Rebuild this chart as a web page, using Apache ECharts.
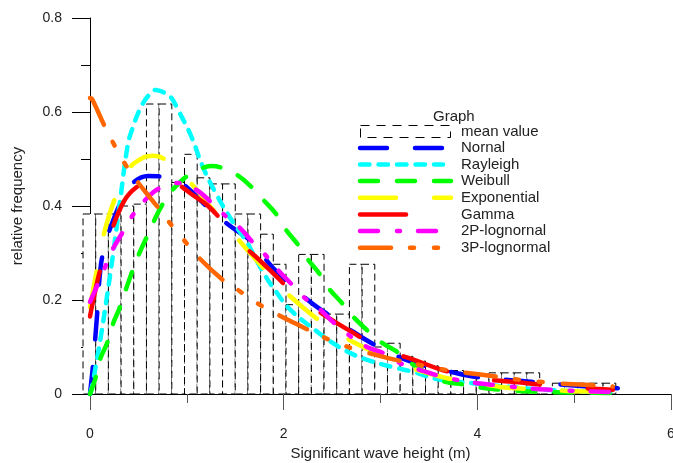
<!DOCTYPE html>
<html>
<head>
<meta charset="utf-8">
<script src="https://cdn.jsdelivr.net/npm/echarts@6/dist/echarts.min.js"></script>
<style>
    html, body { margin: 0; padding: 0; background: #fff; }
    #chart { width: 673px; height: 463px; }
</style>
</head>
<body>
<div id="chart"></div>
<script>
    // histogram of mean values: bins start at binLeft, each binWidth wide
    const binLeft = -0.072;
    const binWidth = 0.131;
    const meanFreq = [0.383, 0.383, 0.383, 0.40, 0.404, 0.617, 0.617, 0.45, 0.51, 0.46,
        0.447, 0.447, 0.383, 0.383, 0.34, 0.276, 0.19, 0.297, 0.297, 0.17,
        0.17, 0.276, 0.276, 0.10, 0.108, 0.08, 0.07, 0.06, 0.05, 0.05,
        0.04, 0.04, 0.045, 0.045, 0.045, 0.045, 0.01, 0.023, 0.023, 0.023,
        0.023, 0.023];

    const normalPts = [[0, 0], [0.03, 0.06], [0.07, 0.16], [0.11, 0.27], [0.16, 0.32], [0.24, 0.37],
        [0.35, 0.42], [0.46, 0.452], [0.6, 0.464], [0.75, 0.462], [0.9, 0.45], [1.0, 0.44], [1.2, 0.4],
        [1.43, 0.36], [1.68, 0.322], [1.84, 0.28], [1.93, 0.26], [2.25, 0.2], [2.5, 0.163], [2.72, 0.132],
        [2.98, 0.1], [3.3, 0.07], [3.77, 0.045], [4.0, 0.036], [4.55, 0.026], [5.0, 0.018], [5.45, 0.012]];
    const rayleighPts = [[0, 0], [0.02, 0.015], [0.06, 0.06], [0.11, 0.12], [0.17, 0.2], [0.24, 0.3],
        [0.31, 0.41], [0.39, 0.53], [0.44, 0.566], [0.52, 0.608], [0.6, 0.634], [0.68, 0.647], [0.76, 0.642],
        [0.84, 0.63], [0.91, 0.604], [1.04, 0.551], [1.17, 0.481], [1.31, 0.423], [1.45, 0.374], [1.62, 0.323],
        [1.68, 0.3], [1.8, 0.255], [1.93, 0.215], [2.07, 0.179], [2.35, 0.132], [2.51, 0.108], [2.69, 0.087],
        [2.87, 0.072], [3.13, 0.057], [3.34, 0.047], [3.58, 0.032], [4.0, 0.022], [4.5, 0.012], [5.0, 0.006],
        [5.4, 0.003]];
    const weibullPts = [[0, 0], [0.06, 0.036], [0.11, 0.077], [0.18, 0.11], [0.24, 0.151], [0.3, 0.18],
        [0.4, 0.24], [0.5, 0.295], [0.6, 0.34], [0.7, 0.385], [0.8, 0.42], [0.9, 0.445], [1.0, 0.463],
        [1.15, 0.48], [1.25, 0.485], [1.35, 0.482], [1.52, 0.466], [1.67, 0.44], [1.79, 0.413], [1.93, 0.381],
        [2.01, 0.353], [2.15, 0.317], [2.24, 0.289], [2.38, 0.253], [2.46, 0.226], [2.6, 0.194], [2.72, 0.164],
        [2.86, 0.136], [3.0, 0.111], [3.17, 0.09], [3.3, 0.068], [3.45, 0.048], [3.65, 0.027], [3.87, 0.02],
        [4.03, 0.014], [4.24, 0.009], [4.6, 0.005], [5.0, 0.003], [5.4, 0.002]];
    const exponentialPts = [[0, 0.185], [0.07, 0.264], [0.14, 0.338], [0.26, 0.417], [0.41, 0.481],
        [0.55, 0.503], [0.65, 0.507], [0.75, 0.502], [0.9, 0.475], [1.03, 0.451], [1.16, 0.42], [1.29, 0.387],
        [1.45, 0.35], [1.58, 0.317], [1.7, 0.289], [1.87, 0.25], [2.03, 0.215], [2.32, 0.164], [2.63, 0.121],
        [2.82, 0.1], [3.05, 0.077], [3.3, 0.057], [3.44, 0.047], [3.7, 0.033], [4.0, 0.023], [4.24, 0.015],
        [4.5, 0.011], [4.75, 0.009], [4.99, 0.006], [5.4, 0.004]];
    const gammaPts = [[0, 0.165], [0.03, 0.196], [0.1, 0.26], [0.22, 0.345], [0.35, 0.41], [0.48, 0.44],
        [0.65, 0.455], [0.8, 0.453], [0.9, 0.447], [1.05, 0.425], [1.22, 0.4], [1.42, 0.355], [1.58, 0.317],
        [1.75, 0.285], [1.93, 0.249], [2.1, 0.215], [2.3, 0.185], [2.5, 0.157], [2.72, 0.13], [2.9, 0.108],
        [3.12, 0.089], [3.41, 0.068], [3.64, 0.051], [4.0, 0.034], [4.51, 0.023], [4.9, 0.015], [5.4, 0.009]];
    const logn2Pts = [[0, 0.196], [0.1, 0.243], [0.155, 0.27], [0.23, 0.306], [0.34, 0.345], [0.44, 0.38],
        [0.59, 0.417], [0.72, 0.438], [0.9, 0.449], [1.1, 0.434], [1.31, 0.396], [1.42, 0.375], [1.55, 0.353],
        [1.68, 0.323], [1.81, 0.296], [1.94, 0.264], [2.09, 0.232], [2.22, 0.204], [2.38, 0.179], [2.51, 0.153],
        [2.67, 0.126], [2.86, 0.1], [3.03, 0.087], [3.2, 0.066], [3.41, 0.051], [3.58, 0.04], [3.79, 0.03],
        [4.0, 0.023], [4.2, 0.019], [4.58, 0.011], [4.75, 0.009], [5.1, 0.006], [5.4, 0.004]];
    const logn3Pts = [[0, 0.63], [0.02, 0.628], [0.155, 0.568], [0.24, 0.534], [0.36, 0.49], [0.5, 0.449],
        [0.62, 0.418], [0.74, 0.387], [0.8, 0.37], [0.96, 0.33], [1.12, 0.291], [1.37, 0.243], [1.53, 0.221],
        [1.76, 0.189], [1.91, 0.172], [2.22, 0.14], [2.41, 0.121], [2.61, 0.104], [2.84, 0.089], [3.17, 0.072],
        [3.4, 0.062], [3.62, 0.053], [3.82, 0.047], [4.24, 0.036], [4.37, 0.032], [4.6, 0.027], [4.8, 0.023],
        [5.17, 0.019], [5.4, 0.016]];

    const fontName = 'Liberation Sans';

    let curves = [
        {name: 'Nornal', data: normalPts, color: '#0000ff', dash: [27, 28], y: 148, end: 443},
        {name: 'Rayleigh', data: rayleighPts, color: '#00ffff', dash: [9.5, 9], y: 164.5, end: 443},
        {name: 'Weibull', data: weibullPts, color: '#00ff00', dash: [18, 19], y: 181, end: 451},
        {name: 'Exponential', data: exponentialPts, color: '#ffff00', dash: [36, 38], y: 197.7, end: 451},
        {name: 'Gamma', data: gammaPts, color: '#ff0000', dash: [46, 48], y: 214.5, end: 451},
        {name: '2P-lognornal', data: logn2Pts, color: '#ff00ff', dash: [18, 19, 3, 18], y: 231, end: 437},
        {name: '3P-lognormal', data: logn3Pts, color: '#ff6600', dash: [31, 19, 4, 20, 4, 20], y: 247.7, end: 440}
    ];

    let myChart = echarts.init(document.getElementById('chart'));

    let series = [{
        type: 'custom',
        z: 2,
        clip: false,
        data: meanFreq.map((h, i) => [binLeft + i * binWidth, h]),
        renderItem: function (params, api) {
            let x0 = api.value(0);
            let p0 = api.coord([x0, api.value(1)]);
            let p1 = api.coord([x0 + binWidth, 0]);
            return {
                type: 'rect',
                shape: {x: p0[0], y: p0[1], width: p1[0] - p0[0], height: p1[1] - p0[1]},
                style: {fill: '#fff', stroke: '#000', lineWidth: 1, lineDash: [7, 4]}
            };
        }
    }];
    curves.forEach(c => {
        series.push({
            name: c.name,
            type: 'line',
            z: 4,
            data: c.data,
            symbol: 'none',
            smooth: 0.4,
            lineStyle: {color: c.color, width: 4.5, type: c.dash, cap: 'round', join: 'round'}
        });
    });

    // legend drawn by hand so the dash patterns show like the original
    let graphics = [
        {type: 'text', x: 433, y: 117, style: {text: 'Graph', font: '15px ' + fontName, fill: '#222', verticalAlign: 'middle'}},
        {type: 'rect', shape: {x: 360.5, y: 125.5, width: 90, height: 12},
            style: {fill: 'none', stroke: '#000', lineWidth: 1, lineDash: [9, 7]}},
        {type: 'text', x: 461, y: 132, style: {text: 'mean value', font: '15px ' + fontName, fill: '#222', verticalAlign: 'middle'}}
    ];
    curves.forEach(c => {
        graphics.push({
            type: 'line',
            shape: {x1: 360, y1: c.y, x2: c.end, y2: c.y},
            style: {stroke: c.color, lineWidth: 4.5, lineDash: c.dash, lineCap: 'round'}
        });
        graphics.push({
            type: 'text', x: 461, y: c.y,
            style: {text: c.name, font: '15px ' + fontName, fill: '#222', verticalAlign: 'middle'}
        });
    });

    let option = {
        animation: false,
        backgroundColor: '#fff',
        grid: {left: 90, right: 2, top: 18, bottom: 69, outerBoundsMode: 'none'},
        xAxis: {
            type: 'value',
            min: 0,
            max: 6,
            interval: 2,
            z: 3,
            name: 'Significant wave height (m)',
            nameLocation: 'middle',
            nameGap: 52,
            nameTextStyle: {fontFamily: fontName, fontSize: 15, color: '#222'},
            axisLine: {lineStyle: {color: '#000', width: 1}},
            axisTick: {length: 16, lineStyle: {color: '#555'}},
            minorTick: {show: true, splitNumber: 2, length: 9, lineStyle: {color: '#555'}},
            axisLabel: {margin: 33, fontFamily: fontName, fontSize: 14, color: '#222'},
            splitLine: {show: false}
        },
        yAxis: {
            type: 'value',
            min: 0,
            max: 0.8,
            interval: 0.2,
            name: 'relative frequency',
            nameLocation: 'middle',
            nameGap: 65,
            nameTextStyle: {fontFamily: fontName, fontSize: 15, color: '#222'},
            axisLine: {show: true, lineStyle: {color: '#000', width: 1}},
            axisTick: {show: true, length: 18, lineStyle: {color: '#000'}},
            minorTick: {show: true, splitNumber: 2, length: 9, lineStyle: {color: '#000'}},
            axisLabel: {margin: 28, fontFamily: fontName, fontSize: 14, color: '#222'},
            splitLine: {show: false}
        },
        graphic: graphics,
        series: series
    };
    myChart.setOption(option);
</script>
</body>
</html>
